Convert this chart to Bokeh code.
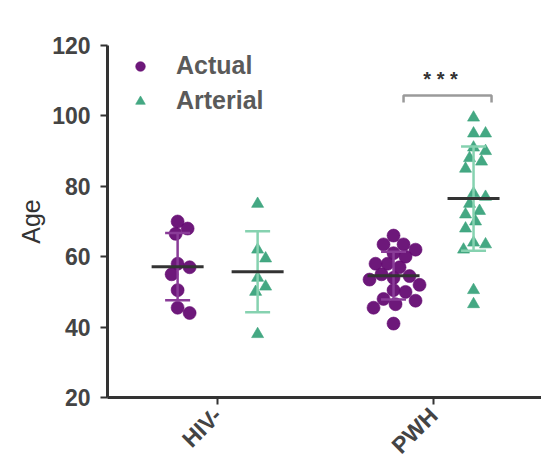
import math
import numpy as np
from bokeh.plotting import figure
from bokeh.models import FixedTicker, Legend, LegendItem, Label
from bokeh.embed import file_html
from bokeh.resources import INLINE

# Ages per group and measurement type
groups = ["HIV-", "PWH"]
series = ["Actual", "Arterial"]
hiv_actual = [70, 68, 66.5, 58, 57, 55, 50.5, 45.5, 44]
hiv_arterial = [75, 62, 59.5, 54, 51.5, 50, 38]
pwh_actual = [66, 63.5, 63.5, 62, 61, 60, 58, 58, 57, 55, 54.5, 54, 53.5,
              52, 50.5, 50, 48, 47.5, 46.5, 45.5, 41]
pwh_arterial = [99.5, 95, 95, 91, 90, 88, 87, 85, 78, 77, 75, 73, 72, 70,
                68, 64, 63.5, 62, 50.5, 46.5]
y_ticks = [20, 40, 60, 80, 100, 120]
sig_label = "* * *"

ACTUAL = "#650c73"
ARTERIAL = "#3aa37c"
ARTERIAL_BAR = "#86d2b0"
ACTUAL_BAR = "#8a3c98"
INK = "#333333"
FONT = "Liberation Sans"

W, H = 541, 470
LEFT, TOP, BOTTOM = 107, 45, 73
x_range = (0.49, 2.5)
y_range = (20, 120)
px_x = (W - LEFT) / (x_range[1] - x_range[0])
px_y = (H - TOP - BOTTOM) / (y_range[1] - y_range[0])
offset = 40 / px_x


def swarm(values, center, diam=12.0, step=2.0):
    """Simple beeswarm: spread points sideways until they stop overlapping."""
    placed = []
    for v in sorted(values, reverse=True):
        k = 0
        while True:
            for sgn in ([0] if k == 0 else [1, -1]):
                dx = sgn * k * step
                ok = all(math.hypot(dx - px, (v - py) * px_y) >= diam for px, py in placed)
                if ok:
                    break
            else:
                k += 1
                continue
            break
        placed.append((dx, v))
    return [center + d / px_x for d, _ in placed], [v for _, v in placed]


p = figure(width=W, height=H, x_range=x_range, y_range=y_range,
           output_backend="svg", toolbar_location=None,
           min_border_left=LEFT, min_border_right=0,
           min_border_top=TOP, min_border_bottom=BOTTOM)
p.outline_line_color = None
p.xgrid.visible = False
p.ygrid.visible = False
p.background_fill_color = "white"

renderers = {}
for gi, (g, a_vals, r_vals) in enumerate(zip(groups, [hiv_actual, pwh_actual],
                                              [hiv_arterial, pwh_arterial])):
    c = gi + 1
    for si, (vals, col, bar_col, marker, size) in enumerate([
            (a_vals, ACTUAL, ACTUAL_BAR, "circle", 13),
            (r_vals, ARTERIAL, ARTERIAL_BAR, "triangle", 12)]):
        cx = c - offset if si == 0 else c + offset
        xs, ys = swarm(vals, cx, diam=12 if si == 0 else 11)
        r = p.scatter(xs, ys, marker=marker, size=size, fill_color=col,
                      line_color=col, line_alpha=0.6, fill_alpha=0.95)
        renderers[series[si]] = r
        m = float(np.mean(vals))
        sd = float(np.std(vals, ddof=1))
        cap = 12.5 / px_x
        half = 26 / px_x
        p.segment([cx], [m - sd], [cx], [m + sd], line_color=bar_col, line_width=2.5)
        p.segment([cx - cap, cx - cap], [m - sd, m + sd], [cx + cap, cx + cap],
                  [m - sd, m + sd], line_color=bar_col, line_width=2.5)
        p.segment([cx - half], [m], [cx + half], [m], line_color=INK, line_width=3)

# significance bracket between PWH actual and arterial
bx0 = 2 - offset + 10 / px_x
bx1 = 2 + offset + 18 / px_x
by = 105.8
tick = 2.0
p.line([bx0, bx0, bx1, bx1], [by - tick, by, by, by - tick],
       line_color="#9a9a9a", line_width=2.5)
p.add_layout(Label(x=(bx0 + bx1) / 2 - 7 / px_x, y=by + 1.5, text=sig_label,
                   text_align="center", text_baseline="bottom",
                   text_font=FONT, text_font_style="bold",
                   text_font_size="20px", text_color=INK))

# axes
p.xaxis.ticker = FixedTicker(ticks=[1, 2])
p.xaxis.major_label_overrides = {1: groups[0], 2: groups[1]}
p.xaxis.major_label_orientation = math.pi / 4
p.yaxis.ticker = FixedTicker(ticks=y_ticks)
p.yaxis.axis_label = "Age"
for ax in (p.xaxis, p.yaxis):
    ax.axis_line_width = 3
    ax.axis_line_color = INK
    ax.major_tick_line_width = 2
    ax.major_tick_line_color = INK
    ax.major_tick_in = 0
    ax.major_tick_out = 7
    ax.minor_tick_line_color = None
    ax.major_label_text_font = FONT
    ax.major_label_text_font_style = "bold"
    ax.major_label_text_color = "#444444"
    ax.axis_label_text_font = FONT
    ax.axis_label_text_font_style = "normal"
    ax.axis_label_text_color = INK
p.yaxis.major_label_text_font_size = "23px"
p.xaxis.major_label_text_font_size = "23px"
p.yaxis.axis_label_text_font_size = "25px"
p.yaxis.major_label_standoff = 10
p.yaxis.axis_label_standoff = 4
p.xaxis.major_label_standoff = 7

legend = Legend(items=[LegendItem(label=series[0], renderers=[renderers[series[0]]]),
                       LegendItem(label=series[1], renderers=[renderers[series[1]]])],
                location=(21, 282), orientation="vertical")
legend.background_fill_alpha = 0
legend.border_line_color = None
legend.label_text_font = FONT
legend.label_text_font_size = "25px"
legend.label_text_font_style = "bold"
legend.label_text_color = "#5a5a5a"
legend.glyph_width = 24
legend.glyph_height = 24
legend.label_standoff = 24
legend.spacing = 6
legend.padding = 0
legend.margin = 0
p.add_layout(legend)

open("out.html", "w").write(file_html(p, INLINE))
